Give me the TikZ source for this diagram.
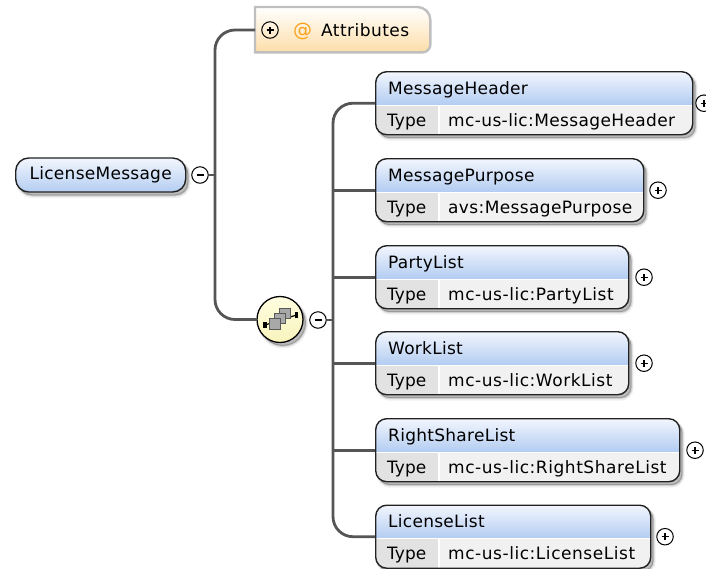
\documentclass[tikz,border=0pt]{standalone}
\usepackage{fontspec}
\setmainfont{DejaVu Sans}
\newfontfamily\titlefont[LetterSpace=1.6]{DejaVu Sans}
\newfontfamily\valuefont[LetterSpace=3.2]{DejaVu Sans}
\newfontfamily\valuefontmid[LetterSpace=2.2]{DejaVu Sans}
\newfontfamily\attrfont[LetterSpace=2.7]{DejaVu Sans}
\usetikzlibrary{calc}
\definecolor{conncol}{HTML}{555555}
\definecolor{edgecol}{HTML}{222222}
\definecolor{bluetop}{HTML}{F2F6FD}
\definecolor{bluebot}{HTML}{B4CDF2}
\definecolor{lowcol}{HTML}{F1F1F1}
\definecolor{typecol}{HTML}{E2E2E2}
\definecolor{attredge}{HTML}{BFBFBF}
\definecolor{attrbot}{HTML}{FDDDA8}
\definecolor{attrat}{HTML}{F9A11B}
\definecolor{yellowtop}{HTML}{FFFDE0}
\definecolor{yellowbot}{HTML}{F8F4BC}
\definecolor{squarecol}{HTML}{A8A8A8}
\tikzset{
  softshadow/.style={
    preaction={draw=black,fill=black,opacity=.06,line width=4pt,transform canvas={shift={(3pt,-4pt)}}},
    preaction={draw=black,fill=black,opacity=.09,line width=2pt,transform canvas={shift={(3pt,-3.5pt)}}},
    preaction={draw=black,fill=black,opacity=.14,line width=.5pt,transform canvas={shift={(2.5pt,-3pt)}}}},
  conn/.style={draw=conncol,line width=2.8pt,rounded corners=20pt},
  stub/.style={draw=conncol,line width=2.8pt},
  elembox/.style={draw=edgecol,line width=1.4pt,rounded corners=11pt,softshadow,anchor=north west,
    minimum height=63pt,inner sep=0pt,
    path picture={
      \begin{scope}[sharp corners]
      \fill[lowcol] (path picture bounding box.south west) rectangle (path picture bounding box.north east);
      \fill[typecol] ([yshift=-34pt]path picture bounding box.north west) rectangle ([xshift=62pt]path picture bounding box.south west);
      \fill[white] ([yshift=-32.5pt]path picture bounding box.north west) rectangle ([yshift=-34pt]path picture bounding box.north east);
      \fill[white] ([xshift=62pt,yshift=-34pt]path picture bounding box.north west) rectangle ([xshift=64pt]path picture bounding box.south west);
      \shade[top color=bluetop,bottom color=bluebot] (path picture bounding box.north west) rectangle ([yshift=-32.5pt]path picture bounding box.north east);
      \end{scope}
    }},
  rootbox/.style={draw=edgecol,line width=1.4pt,rounded corners=13pt,softshadow,top color=bluetop,bottom color=bluebot,
    font=\fontsize{17}{20}\titlefont,text=black,inner sep=0pt,anchor=west},
  lbl/.style={font=\fontsize{17}{20}\selectfont,text=black,anchor=base west,inner sep=0pt},
  titlelbl/.style={lbl,font=\fontsize{17}{20}\titlefont},
  valuelbl/.style={lbl,font=\fontsize{17}{20}\valuefont},
  attrlbl/.style={lbl,font=\fontsize{17}{20}\attrfont},
  atlbl/.style={lbl,font=\fontsize{19}{22}\selectfont,text=attrat},
  pmshape/.style={circle,draw=black,line width=1pt,minimum size=16.5pt,inner sep=0pt},
  plusmark/.style={path picture={
      \draw[line width=1.1pt] ($(path picture bounding box.center)+(-3.5pt,0)$) -- ($(path picture bounding box.center)+(3.5pt,0)$);
      \draw[line width=1.1pt] ($(path picture bounding box.center)+(0,-3.5pt)$) -- ($(path picture bounding box.center)+(0,3.5pt)$);}},
  plusnode/.style={pmshape,fill=white,plusmark},
  minusnode/.style={pmshape,fill=white,path picture={
      \draw[line width=1.1pt] ($(path picture bounding box.center)+(-3.5pt,0)$) -- ($(path picture bounding box.center)+(3.5pt,0)$);}},
  seqsquare/.style={draw=black!65,line width=.8pt,fill=squarecol,minimum size=10.5pt,inner sep=0pt},
  wirecap/.style={fill=black,minimum width=3.5pt,minimum height=6pt,inner sep=0pt},
}
% #1 node name, #2 left, #3 top, #4 width, #5 title, #6 type, #7 plus centre offset
\newcommand{\elemnode}[7]{%
  \node[elembox,minimum width=#4pt] (#1) at (#2,#3) {};
  \node[titlelbl] (#1t) at ($(#1.north west)+(13pt,-23pt)$) {#5};
  \node[lbl] (#1k) at ($(#1.north west)+(12pt,-55pt)$) {Type};
  \node[valuelbl] (#1v) at ($(#1.north west)+(73pt,-55pt)$) {#6};
  \node[plusnode] (#1p) at ($(#1.west)+(#7pt,0)$) {};
}
\begin{document}
\begin{tikzpicture}[x=1pt,y=-1pt]
\useasboundingbox (0,0) rectangle (706,568);
% root
\node[rootbox,minimum width=170pt,minimum height=34pt] (root) at (15,175) {LicenseMessage};
\node[minusnode] (rootm) at (200,175) {};
% attributes
\node[inner sep=0pt,minimum width=175pt,minimum height=45pt,anchor=north west] (attr) at (255,7) {};
\draw[attredge,line width=2.4pt,top color=white,bottom color=attrbot]
  (attr.north west)
  [rounded corners=13pt] -- (attr.north east)
  [rounded corners=8pt] -- (attr.south east)
  [sharp corners] -- (attr.south west) -- cycle;
\node[pmshape,plusmark] (attrp) at (270,30) {};
\node[atlbl] (attrat) at (293,36) {@};
\node[attrlbl] (attrt) at (321,36) {Attributes};
% sequence
\node[circle,draw=black,line width=1.3pt,minimum size=46pt,inner sep=0pt,top color=yellowtop,bottom color=yellowbot,softshadow] (seq) at (280,319.5) {};
\coordinate (wa) at (265,325);
\coordinate (wb) at (296.5,315);
\draw[line width=1.2pt] (wa) -- (wb);
\node[wirecap] (capa) at (wa) {};
\node[wirecap] (capb) at (wb) {};
\node[seqsquare] (sq3) at (285,313.5) {};
\node[seqsquare] (sq2) at (280,318.5) {};
\node[seqsquare] (sq1) at (275,324) {};
\node[minusnode] (seqm) at (318,320) {};
% elements
\elemnode{mh}{375}{71}{317}{MessageHeader}{\valuefontmid mc-us-lic:MessageHeader}{329}
\elemnode{mp}{375}{158}{268}{MessagePurpose}{\valuefontmid avs:MessagePurpose}{283}
\elemnode{pl}{375}{245}{253}{PartyList}{mc-us-lic:PartyList}{269}
\elemnode{wl}{375}{331}{253}{WorkList}{mc-us-lic:WorkList}{269}
\elemnode{rs}{375}{418}{304}{RightShareList}{mc-us-lic:RightShareList}{320}
\elemnode{ll}{375}{504.5}{275}{LicenseList}{mc-us-lic:LicenseList}{290}
% connectors
\coordinate (tr1) at (215,175);
\coordinate (tr2) at (333,320);
\draw[conn] (attr.west |- attrp) -- (tr1 |- attrp) -- (tr1 |- seq.west) -- (seq.west);
\draw[stub] (rootm.east) -- (tr1);
\draw[conn] (mh.west) -- (tr2 |- mh.west) -- (tr2 |- ll.west) -- (ll.west);
\draw[stub] (seqm.east) -- (tr2);
\draw[stub] (mp.west) -- (tr2 |- mp.west);
\draw[stub] (pl.west) -- (tr2 |- pl.west);
\draw[stub] (wl.west) -- (tr2 |- wl.west);
\draw[stub] (rs.west) -- (tr2 |- rs.west);
\end{tikzpicture}
\end{document}
